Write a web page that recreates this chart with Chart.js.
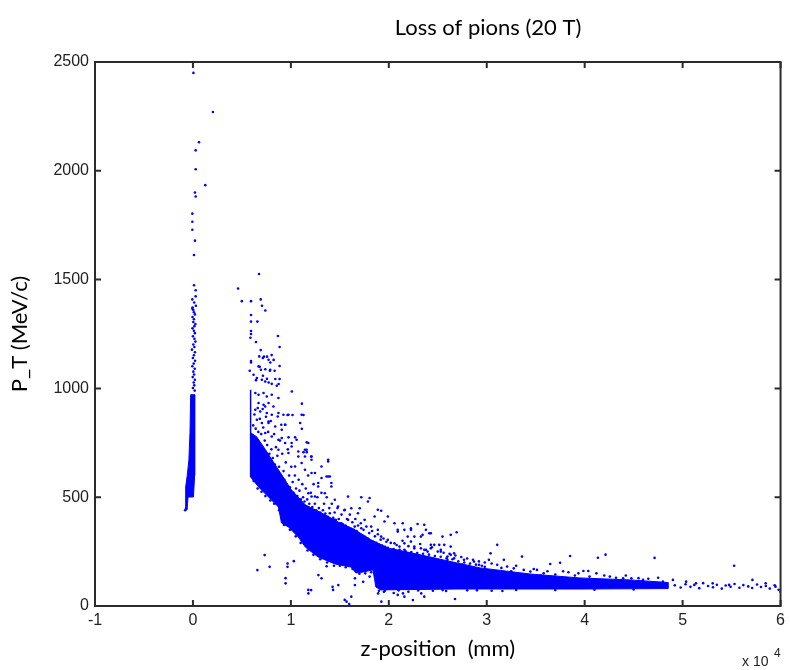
<!DOCTYPE html>
<html>
<head>
<meta charset="utf-8">
<script src="https://cdn.jsdelivr.net/npm/chart.js@4.4.1/dist/chart.umd.min.js"></script>
<style>
  html, body { margin: 0; padding: 0; background: #fff; }
  canvas { display: block; }
</style>
</head>
<body>
<canvas id="pions" width="790" height="670"></canvas>
<script>
// z-position in units of 10^4 mm, P_T in MeV/c
var zTicks = [-1, 0, 1, 2, 3, 4, 5, 6];
var pTicks = [0, 500, 1000, 1500, 2000, 2500];

// outline of the dense band of losses (z > 0.6)
var bandZ = [0.589, 0.650, 0.741, 0.873, 1.005, 1.147, 1.350, 1.482, 1.655, 1.817,
             1.990, 2.325, 2.695, 2.934, 3.442, 3.949, 4.457, 4.850, 4.850, 3.949,
             2.695, 1.919, 1.868, 1.838, 1.736, 1.665, 1.614, 1.452, 1.279, 1.147,
             1.076, 0.975, 0.904, 0.873, 0.772, 0.670, 0.589, 0.589];
var bandP = [796, 778, 718, 626, 534, 465, 419, 386, 350, 304,
             267, 235, 198, 175, 147, 129, 120, 108, 80, 78,
             78, 74, 87, 166, 156, 152, 179, 193, 225, 271,
             317, 363, 382, 455, 501, 547, 593, 796];

// outline of the dense spike at z = 0
var spikeZ = [-0.023, 0.018, 0.020, 0.015, 0.005, -0.050, -0.060, -0.078, -0.074, -0.058, -0.041, -0.030, -0.023];
var spikeP = [971, 971, 760, 600, 501, 501, 442, 442, 547, 600, 672, 796, 971];

// vertical streak at z = 0.6
var streakZ = [0.589, 0.589];
var streakP = [593, 994];

// single losses above the spike
var spikeDotsZ = [0.005, 0.204, 0.062, 0.028, 0.028, 0.126, 0.021, 0.028, -0.006, -0.006,
                  -0.006, 0.021, 0.011, 0.011, 0.028, 0.028, -0.006, -0.006, 0.013, 0.030,
                  -0.004, 0.004, 0.010, 0.020, -0.004, 0.010, 0.004, 0.025, 0.015, -0.004,
                  0.010, 0.020, 0.000, 0.015, 0.025, 0.004, 0.015, -0.010, 0.020, 0.010,
                  0.000, 0.022, 0.008, -0.006, 0.018, 0.004, 0.012, -0.002, 0.020, 0.008,
                  0.014, 0.000, 0.018, -0.080, -0.070];
var spikeDotsP = [2450, 2270, 2131, 2094, 2007, 1934, 1900, 1882, 1803, 1766,
                  1729, 1679, 1613, 1474, 1451, 1423, 1409, 1366, 1395, 1380,
                  1372, 1360, 1350, 1340, 1328, 1318, 1305, 1296, 1286, 1276,
                  1265, 1254, 1240, 1228, 1215, 1202, 1190, 1178, 1166, 1152,
                  1140, 1127, 1114, 1102, 1090, 1077, 1064, 1052, 1040, 1027,
                  1014, 1002, 990, 440, 448];

// single losses above the band, z < 1.5
var upperDotsZ = [0.675, 0.461, 0.499, 0.593, 0.692, 0.705, 0.739, 0.593, 0.593, 0.658,
                  0.593, 0.593, 0.587, 0.644, 0.868, 0.885, 0.692, 0.725, 0.757, 0.804,
                  0.824, 0.593, 0.593, 0.580, 0.682, 0.790, 0.739, 0.786, 0.834, 0.885,
                  0.644, 0.715, 0.756, 0.773, 0.841, 0.875, 0.885, 1.010, 1.112, 1.129,
                  0.966, 1.017, 1.095, 1.112, 0.943, 0.902, 0.976, 1.044, 1.162, 1.129,
                  1.162, 1.207,
                  0.677, 0.714, 0.772, 0.670, 0.694, 0.789, 0.619, 0.653, 0.704, 0.738,
                  0.805, 0.856, 0.637, 0.670, 0.721, 0.754, 0.805, 0.873, 0.670, 0.721,
                  0.772, 0.822, 0.637, 0.687, 0.754, 0.805, 0.866, 0.924, 0.653, 0.704,
                  0.772, 0.840, 0.907, 0.738, 0.805, 0.873, 0.941, 1.008, 1.076, 1.144,
                  0.738, 0.873, 0.975, 1.110, 0.772, 0.941, 0.907, 1.008, 1.059, 0.873,
                  0.975, 1.076, 1.161, 1.211, 1.043, 1.144, 1.246, 1.313, 1.381, 1.414,
                  1.279, 1.347, 1.449, 1.211, 1.398, 1.449, 1.313, 1.381];
var upperDotsP = [1526, 1459, 1401, 1401, 1409, 1380, 1358, 1337, 1307, 1307,
                  1264, 1250, 1233, 1213, 1241, 1190, 1176, 1146, 1146, 1153,
                  1131, 1126, 1119, 1081, 1099, 1119, 1088, 1081, 1081, 1103,
                  1038, 1058, 1044, 1027, 1043, 1020, 1043, 986, 930, 878,
                  878, 878, 841, 814, 833, 833, 775, 775, 752, 707,
                  707, 687,
                  1147, 1140, 1132, 1101, 1086, 1086, 1063, 1048, 1040, 1032,
                  1021, 1012, 979, 971, 979, 963, 971, 956, 933, 925,
                  933, 917, 902, 894, 887, 879, 871, 879, 856, 841,
                  848, 825, 810, 795, 779, 764, 749, 733, 710, 687,
                  917, 887, 879, 879, 841, 833, 772, 749, 764, 718,
                  703, 687, 718, 672, 641, 626, 611, 588, 595, 565,
                  549, 518, 488, 503, 426, 396, 641, 664];

// single losses above the band, z > 1.1
var midDotsZ = [1.178, 1.144, 1.211, 1.110, 1.381, 1.364, 1.398, 1.211, 1.279, 1.414,
                1.178, 1.246, 1.482, 1.584, 1.719, 1.804, 1.787, 1.550, 1.617, 1.703,
                1.685, 1.888, 1.922, 1.855, 1.990, 1.956, 2.058, 2.142, 1.753, 1.820,
                1.888, 2.091, 2.159, 2.226, 2.362, 2.379, 2.193, 2.261, 2.328, 2.429,
                2.548, 2.464, 2.566, 2.632, 2.667, 1.584, 1.516, 1.652, 1.719, 1.922,
                1.990, 2.058, 2.159, 2.261, 2.362, 2.429, 2.531, 2.632, 2.599,
                2.226, 2.294, 2.413, 2.345, 2.632, 2.693, 2.091, 2.226, 2.109, 2.159,
                2.328, 2.429, 2.515, 2.531, 2.396, 2.599, 2.667, 2.768, 2.870, 2.921,
                3.039, 3.107, 3.022, 3.107, 3.175, 3.208, 3.276, 3.360, 3.378, 3.445,
                3.513, 3.581, 3.648, 3.749, 3.851, 3.834, 3.936, 3.987, 4.037, 4.135,
                4.213, 4.257, 4.393, 4.477, 4.596, 4.714, 4.799, 4.901,
                2.750, 2.820, 2.980, 3.050, 3.150, 3.250, 3.300, 3.480, 3.550, 3.620,
                3.700, 3.780, 3.900, 4.050, 4.120, 4.200, 4.320, 4.420, 4.550, 4.650, 4.750];
var midDotsP = [749, 718, 687, 657, 672, 595, 595, 611, 565, 549,
                518, 503, 457, 503, 500, 496, 480, 442, 449, 449,
                426, 442, 438, 411, 411, 388, 380, 380, 396, 365,
                350, 350, 350, 350, 373, 350, 319, 319, 319, 334,
                319, 281, 281, 273, 242, 396, 380, 365, 357, 319,
                304, 288, 288, 273, 258, 265, 250, 235, 212,
                357, 377, 334, 327, 327, 339, 342, 296, 273, 258,
                265, 281, 281, 258, 250, 227, 219, 212, 204, 189,
                242, 281, 212, 189, 212, 181, 173, 227, 166, 158,
                166, 150, 193, 199, 230, 155, 150, 161, 161, 222,
                236, 135, 127, 127, 120, 221, 112, 120,
                190, 185, 180, 195, 175, 160, 185, 170, 140, 160,
                145, 160, 140, 135, 150, 140, 130, 140, 128, 125, 130];

// dense losses just above the upper edge of the band
var edgeDotsZ = [0.615, 0.628, 0.641, 0.662, 0.668, 0.683, 0.697, 0.712, 0.718, 0.733,
                 0.746, 0.758, 0.768, 0.781, 0.795, 0.801, 0.815, 0.829, 0.836, 0.848,
                 0.862, 0.879, 0.888, 0.897, 0.912, 0.925, 0.933, 0.948, 0.957, 0.969,
                 0.982, 0.991, 1.004, 1.018, 1.027, 1.041, 1.053, 1.066, 1.079, 1.088,
                 1.101, 1.117, 1.125, 1.139, 1.152, 1.167, 1.176, 1.188, 1.203, 1.219,
                 1.232, 1.245, 1.258, 1.271, 1.286, 1.299, 1.312, 1.327, 1.339, 1.352,
                 1.366, 1.378, 1.392, 1.405, 1.418, 1.433, 1.447, 1.461, 1.476, 1.489,
                 1.502, 1.517, 1.531, 1.546, 1.559, 1.573, 1.588, 1.602, 1.615, 1.628,
                 1.643, 1.658, 1.671, 1.686, 1.700, 1.714, 1.729, 1.742, 1.757, 1.771,
                 1.786, 1.800, 1.815, 1.829, 1.843, 1.858, 1.873, 1.888, 1.902, 1.917,
                 1.931, 1.946, 1.961, 1.975, 1.990, 2.020, 2.050, 2.080, 2.110, 2.140,
                 2.170, 2.200, 2.230, 2.260, 2.290, 2.320, 2.350, 2.380, 2.410, 2.440,
                 2.470, 2.500, 2.530, 2.560, 2.590, 2.620, 2.650, 2.680, 2.710, 2.740,
                 2.770, 2.800, 2.830, 2.860, 2.890, 2.920, 2.950, 2.980];
var edgeDotsP = [830, 880, 815, 910, 800, 860, 790, 905, 820, 760,
                 870, 740, 800, 700, 850, 720, 680, 790, 650, 730,
                 690, 640, 760, 600, 700, 620, 580, 660, 560, 720,
                 600, 545, 640, 570, 520, 600, 540, 505, 580, 530,
                 490, 560, 500, 480, 540, 490, 600, 470, 520, 455,
                 560, 470, 440, 500, 450, 430, 520, 440, 470, 425,
                 500, 410, 450, 400, 470, 405, 430, 395, 450, 400,
                 380, 420, 375, 440, 370, 400, 360, 420, 355, 385,
                 350, 400, 345, 370, 330, 380, 325, 350, 318, 365,
                 310, 335, 300, 345, 295, 320, 290, 330, 282, 305,
                 278, 310, 272, 295, 268, 290, 262, 280, 258, 300,
                 252, 275, 248, 265, 243, 285, 240, 258, 236, 270,
                 230, 250, 226, 245, 220, 240, 215, 232, 205, 225,
                 200, 218, 195, 212, 190, 205, 185, 200];

// losses just below the lower edge of the band
var underDotsZ = [0.620, 0.660, 0.700, 0.740, 0.790, 0.830, 0.880, 0.930, 0.990, 1.050,
                  1.100, 1.170, 1.230, 1.300, 1.370, 1.440, 1.500, 1.560, 1.630, 1.700,
                  1.760, 1.820, 1.900, 1.960, 2.100, 2.300, 2.550, 2.900, 3.300, 3.700,
                  4.100, 4.500];
var underDotsP = [575, 540, 525, 505, 485, 470, 440, 372, 350, 320,
                  290, 255, 235, 215, 200, 185, 185, 178, 170, 148,
                  150, 155, 70, 70, 72, 71, 73, 72, 74, 73,
                  75, 76];

// single losses below the band
var lowerDotsZ = [0.732, 0.658, 0.783, 1.030, 0.966, 0.966, 0.946, 0.946, 1.179, 1.207,
                  1.281, 1.365, 1.426, 1.484, 1.569, 1.596, 1.654, 1.654, 1.738, 1.924,
                  1.891, 2.246, 2.145, 2.331, 1.313, 1.431, 1.178, 1.550, 1.617, 1.804,
                  2.091, 2.159, 2.362, 2.676, 2.585, 3.160, 1.950, 2.050, 2.200, 2.450,
                  2.800, 3.050];
var lowerDotsP = [234, 165, 180, 206, 195, 180, 128, 104, 58, 73,
                  142, 183, 88, 96, 20, 9, 96, 127, 111, 20,
                  58, 27, 58, 58, 127, 74, 74, 28, 43, 135,
                  51, 43, 43, 32, 69, 69, 65, 60, 66, 70,
                  72, 70];

// sparse tail towards z = 6
var tailDotsZ = [4.92, 4.98, 5.03, 5.08, 5.12, 5.17, 5.21, 5.26, 5.31, 5.35,
                 5.40, 5.44, 5.49, 5.53, 5.58, 5.62, 5.67, 5.71, 5.76, 5.80,
                 5.85, 5.89, 5.94, 5.98, 5.526, 5.713, 5.848, 5.949, 6.0, 5.137,
                 5.307, 5.475, 5.036];
var tailDotsP = [95, 85, 100, 88, 97, 82, 105, 92, 86, 98,
                 80, 94, 88, 101, 84, 96, 90, 83, 99, 87,
                 92, 80, 95, 75, 185, 120, 104, 89, 66, 104,
                 104, 97, 112];

var BLUE = '#0000ff';

function pts(zs, ps) {
  return zs.map(function (z, i) { return {x: z, y: ps[i]}; });
}

function area(zs, ps) {
  return {data: pts(zs, ps), showLine: true, fill: 'shape', tension: 0,
          borderColor: BLUE, backgroundColor: BLUE, borderWidth: 1, pointRadius: 0};
}

function dots(zs, ps) {
  return {data: pts(zs, ps), showLine: false, pointRadius: 1.3, pointBorderWidth: 0,
          pointBackgroundColor: BLUE, pointBorderColor: BLUE};
}

// frame with inward ticks, title and the x10^4 factor
var frame = {
  id: 'frame',
  afterDatasetsDraw: function (chart) {
    var ctx = chart.ctx, a = chart.chartArea;
    var xs = chart.scales.x, ys = chart.scales.y;
    ctx.save();
    ctx.strokeStyle = '#2b2b2b';
    ctx.lineWidth = 2;
    ctx.strokeRect(a.left, a.top, a.right - a.left, a.bottom - a.top);
    ctx.beginPath();
    xs.ticks.forEach(function (t) {
      var px = xs.getPixelForValue(t.value);
      ctx.moveTo(px, a.bottom); ctx.lineTo(px, a.bottom - 6);
      ctx.moveTo(px, a.top); ctx.lineTo(px, a.top + 6);
    });
    ys.ticks.forEach(function (t) {
      var py = ys.getPixelForValue(t.value);
      ctx.moveTo(a.left, py); ctx.lineTo(a.left + 6, py);
      ctx.moveTo(a.right, py); ctx.lineTo(a.right - 6, py);
    });
    ctx.stroke();

    ctx.fillStyle = '#000';
    ctx.font = '22px Lato';
    ctx.textAlign = 'center';
    ctx.textBaseline = 'middle';
    ctx.fillText('Loss of pions (20 T)', 488, 28);

    ctx.fillStyle = '#222';
    ctx.textAlign = 'left';
    ctx.textBaseline = 'alphabetic';
    ctx.font = '14px "Liberation Sans"';
    ctx.fillText('x 10', 742, 666);
    ctx.font = '12px "Liberation Sans"';
    ctx.fillText('4', 774, 657);
    ctx.restore();
  }
};

new Chart(document.getElementById('pions').getContext('2d'), {
  type: 'line',
  data: {
    datasets: [
      area(bandZ, bandP),
      area(spikeZ, spikeP),
      {data: pts(streakZ, streakP), showLine: true, fill: false, borderColor: BLUE,
       borderWidth: 1.5, pointRadius: 0},
      dots(spikeDotsZ, spikeDotsP),
      dots(upperDotsZ, upperDotsP),
      dots(midDotsZ, midDotsP),
      dots(edgeDotsZ, edgeDotsP),
      dots(underDotsZ, underDotsP),
      dots(lowerDotsZ, lowerDotsP),
      dots(tailDotsZ, tailDotsP)
    ]
  },
  options: {
    responsive: false,
    animation: false,
    devicePixelRatio: 1,
    layout: {padding: {top: 62, right: 5, left: 0, bottom: 0}},
    plugins: {legend: {display: false}, tooltip: {enabled: false}},
    scales: {
      x: {
        type: 'linear',
        min: zTicks[0],
        max: zTicks[zTicks.length - 1],
        afterBuildTicks: function (s) { s.ticks = zTicks.map(function (v) { return {value: v}; }); },
        afterFit: function (s) { s.height = 64; },
        grid: {display: false, drawTicks: false},
        border: {display: false},
        ticks: {color: '#222', padding: 5, maxRotation: 0,
                font: {family: 'Liberation Sans', size: 16},
                callback: function (v) { return String(v); }},
        title: {display: true, text: 'z-position  (mm)', color: '#000',
                font: {family: 'Lato', size: 22}, padding: {top: 0, bottom: 8}}
      },
      y: {
        type: 'linear',
        min: pTicks[0],
        max: pTicks[pTicks.length - 1],
        afterBuildTicks: function (s) { s.ticks = pTicks.map(function (v) { return {value: v}; }); },
        afterFit: function (s) { s.width = 95; },
        grid: {display: false, drawTicks: false},
        border: {display: false},
        ticks: {color: '#222', padding: 6,
                font: {family: 'Liberation Sans', size: 16},
                callback: function (v) { return String(v); }},
        title: {display: true, text: 'P_T (MeV/c)', color: '#000',
                font: {family: 'Lato', size: 22}, padding: {top: 7, bottom: 0}}
      }
    }
  },
  plugins: [frame]
});
</script>
</body>
</html>
